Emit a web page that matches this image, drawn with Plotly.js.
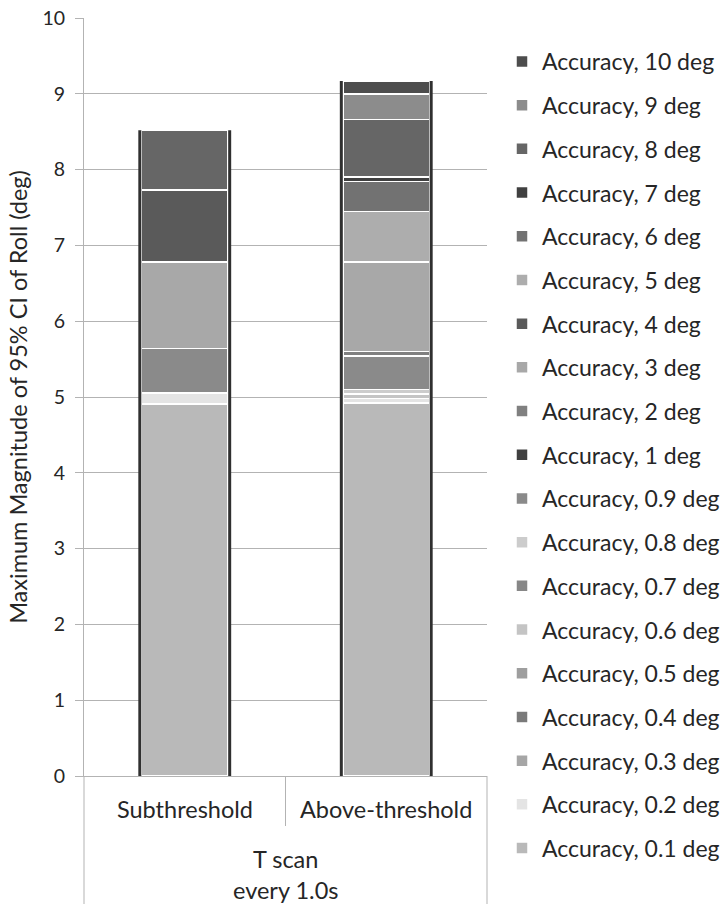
<!DOCTYPE html>
<html>
<head>
<meta charset="utf-8">
<script src="https://cdn.plot.ly/plotly-3.0.1.min.js"></script>
<style>html,body{margin:0;padding:0;background:#fff;}#chart{width:727px;height:904px;}</style>
</head>
<body>
<div id="chart"></div>
<script>
// ---- data ----
const categories = ["Subthreshold", "Above-threshold"];
const parentLabel = "T scan<br>every 1.0s";
const yTitle = "Maximum Magnitude of 95% CI of Roll (deg)";
const seriesNames = ["Accuracy, 0.1 deg","Accuracy, 0.2 deg","Accuracy, 0.3 deg","Accuracy, 0.4 deg","Accuracy, 0.5 deg","Accuracy, 0.6 deg","Accuracy, 0.7 deg","Accuracy, 0.8 deg","Accuracy, 0.9 deg","Accuracy, 1 deg","Accuracy, 2 deg","Accuracy, 3 deg","Accuracy, 4 deg","Accuracy, 5 deg","Accuracy, 6 deg","Accuracy, 7 deg","Accuracy, 8 deg","Accuracy, 9 deg","Accuracy, 10 deg"];
const acc_0_1 = [4.91, 4.92];
const acc_0_2 = [0.14, 0.06];
const acc_0_3 = [0, 0];
const acc_0_4 = [0, 0];
const acc_0_5 = [0, 0];
const acc_0_6 = [0, 0.06];
const acc_0_7 = [0, 0];
const acc_0_8 = [0, 0.06];
const acc_0_9 = [0.59, 0.44];
const acc_1 = [0, 0];
const acc_2 = [0, 0.06];
const acc_3 = [1.14, 1.18];
const acc_4 = [0.95, 0];
const acc_5 = [0, 0.67];
const acc_6 = [0, 0.39];
const acc_7 = [0, 0.06];
const acc_8 = [0.79, 0.76];
const acc_9 = [0, 0.34];
const acc_10 = [0, 0.17];
const seriesValues = [acc_0_1, acc_0_2, acc_0_3, acc_0_4, acc_0_5, acc_0_6, acc_0_7, acc_0_8, acc_0_9, acc_1, acc_2, acc_3, acc_4, acc_5, acc_6, acc_7, acc_8, acc_9, acc_10];
const seriesColors = ["#b9b9b9","#e4e4e4","#a6a6a6","#7a7a7a","#9e9e9e","#c4c4c4","#878787","#cccccc","#8a8a8a","#404040","#808080","#a8a8a8","#5a5a5a","#adadad","#727272","#404040","#666666","#8c8c8c","#4d4d4d"];
const yTicks = [0,1,2,3,4,5,6,7,8,9,10];

// ---- figure ----
const FONT = "Lato, 'Open Sans', sans-serif";
const BARW = 0.43;
const N = seriesNames.length;
const traces = seriesNames.map((name, i) => ({
  type: "bar",
  name: name,
  x: categories,
  y: seriesValues[i],
  width: BARW,
  legendgroup: "g" + i,
  legendrank: N - i,
  marker: {color: seriesColors[i], line: {color: "#ffffff", width: 1.5}},
  hoverinfo: "name+y"
}));

const totals = categories.map((c, k) => seriesValues.reduce((s, arr) => s + arr[k], 0));
const shapes = [];
categories.forEach((c, k) => {
  [-1, 1].forEach(side => {
    shapes.push({type: "line", xref: "x", yref: "y", x0: k + side * (BARW / 2 + 0.008), x1: k + side * (BARW / 2 + 0.008), y0: 0, y1: totals[k], line: {color: "#303030", width: 3}, layer: "above"});
  });
});
const bottomExt = -128 / 758;
shapes.push({type: "line", xref: "paper", yref: "paper", x0: 0, x1: 0, y0: 0, y1: bottomExt, line: {color: "#b3b3b3", width: 1}});
shapes.push({type: "line", xref: "paper", yref: "paper", x0: 1, x1: 1, y0: 0, y1: bottomExt, line: {color: "#b3b3b3", width: 1}});
shapes.push({type: "line", xref: "paper", yref: "paper", x0: 0.5, x1: 0.5, y0: 0, y1: -50 / 758, line: {color: "#b3b3b3", width: 1}});

const annotations = categories.map(c => ({
  x: c, xref: "x", y: 0, yref: "paper", yshift: -33, yanchor: "middle", xanchor: "center",
  text: c, showarrow: false, font: {family: FONT, size: 23.5, color: "#262626"}
}));
annotations.push({x: 0.5, xref: "paper", y: 0, yref: "paper", yshift: -98, yanchor: "middle", xanchor: "center",
  text: parentLabel, showarrow: false, font: {family: FONT, size: 23.5, color: "#262626"}});

const layout = {
  width: 727, height: 904,
  margin: {l: 84, r: 240, t: 18, b: 128, pad: 0},
  paper_bgcolor: "#ffffff", plot_bgcolor: "#ffffff",
  barmode: "stack",
  font: {family: FONT, size: 18, color: "#262626"},
  showlegend: true,
  legend: {
    xref: "container", yref: "container", x: 502 / 727, y: 1 - 40 / 904, xanchor: "left", yanchor: "top",
    traceorder: "grouped", tracegroupgap: 10.8, maxheight: 880,
    font: {family: FONT, size: 23, color: "#262626"}, bgcolor: "rgba(0,0,0,0)"
  },
  xaxis: {
    type: "category", range: [-0.5, 1.5], showticklabels: false, ticks: "",
    showgrid: false, showline: true, linecolor: "#b3b3b3", linewidth: 1, zeroline: false, fixedrange: true
  },
  yaxis: {
    range: [0, 10], tickvals: yTicks, ticktext: yTicks.map(String),
    ticks: "outside", ticklen: 8, tickcolor: "#b3b3b3", tickwidth: 1,
    showgrid: true, gridcolor: "#b3b3b3", gridwidth: 1,
    showline: true, linecolor: "#b3b3b3", linewidth: 1, zeroline: false,
    ticklabelstandoff: 6,
    tickfont: {family: FONT, size: 19.5, color: "#262626"},
    title: {text: yTitle, font: {family: FONT, size: 23.5, color: "#262626"}, standoff: 8},
    fixedrange: true
  },
  shapes: shapes,
  annotations: annotations
};

Plotly.newPlot("chart", traces, layout, {displayModeBar: false, staticPlot: true});
</script>
</body>
</html>
